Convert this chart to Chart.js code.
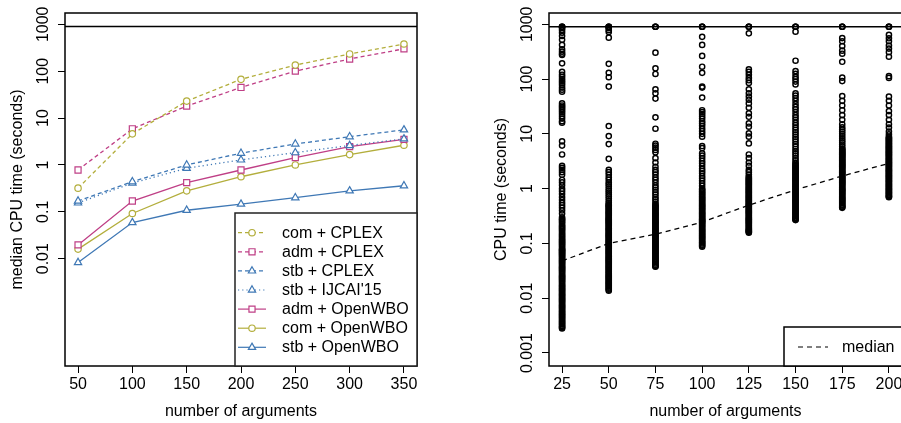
<!DOCTYPE html>
<html>
<head>
<meta charset="utf-8">
<script src="https://cdn.jsdelivr.net/npm/chart.js@4.4.0/dist/chart.umd.min.js"></script>
<style>
  html, body { margin: 0; padding: 0; background: #fff; overflow: hidden; }
  body { width: 901px; height: 423px; position: relative; }
  canvas { position: absolute; top: 0; }
</style>
</head>
<body>
<canvas id="medianChart" width="450" height="423" style="left:0"></canvas>
<canvas id="scatterChart" width="470" height="423" style="left:450px"></canvas>
<script>
// ---- left panel: median CPU time per solver ----
const argCounts = [50, 100, 150, 200, 250, 300, 350];
const comCplex   = [0.32, 4.6, 23, 67, 135, 233, 380];
const admCplex   = [0.78, 5.9, 18, 45, 100, 182, 300];
const stbCplex   = [0.17, 0.44, 1.0, 1.78, 2.8, 4.0, 5.6];
const stbIjcai   = [0.155, 0.41, 0.85, 1.28, 1.83, 2.6, 3.6];
const admOpenwbo = [0.0197, 0.17, 0.42, 0.78, 1.43, 2.46, 3.5];
const comOpenwbo = [0.016, 0.092, 0.28, 0.56, 1.0, 1.66, 2.63];
const stbOpenwbo = [0.0083, 0.059, 0.108, 0.146, 0.2, 0.28, 0.36];
const leftXTicks = [50, 100, 150, 200, 250, 300, 350];
const leftYTicks = [0.01, 0.1, 1, 10, 100, 1000];
const leftYLabels = ['0.01', '0.1', '1', '10', '100', '1000'];

// ---- right panel: CPU time of every instance ----
const argSizes = [25, 50, 75, 100, 125, 150, 175, 200];
const times25 = [900, 900, 900, 850, 780, 700, 610, 520, 420, 350, 316, 290, 275, 194, 135, 120, 110, 100, 92, 85, 78, 70, 64, 59,
  36, 33, 31, 29, 27, 25, 23, 21, 19, 17, 16, 7.3, 6.1, 4.2, 2.6, 2.4, 2.2, 2.0, 1.8, 1.44, 1.3, 1.15, 1.0, 0.9, 0.8, 0.7, 0.62,
  0.55, 0.5, 0.45, 0.4, 0.35, 0.3, 0.27, 0.24, 0.21, 0.19, 0.17, 0.15, 0.135, 0.12, 0.11, 0.1, 0.09, 0.08, 0.075, 0.07, 0.065,
  0.06, 0.055, 0.05, 0.046, 0.042, 0.038, 0.035, 0.032, 0.029, 0.026, 0.024, 0.022, 0.02, 0.018, 0.0165, 0.015, 0.0138, 0.0126,
  0.0115, 0.0105, 0.0096, 0.0088, 0.008, 0.0073, 0.0067, 0.0061, 0.0056, 0.0051, 0.0047, 0.0043, 0.0039, 0.0036, 0.0033, 0.003, 0.0028,
  0.28, 0.255, 0.225, 0.2, 0.18, 0.16, 0.142, 0.128, 0.115, 0.105, 0.095, 0.085, 0.0775, 0.0725, 0.0675, 0.0625, 0.0575, 0.0525,
  0.048, 0.044, 0.04, 0.0365, 0.0335, 0.0305, 0.0275, 0.025, 0.023, 0.021, 0.019, 0.017, 0.0157, 0.0144, 0.0132, 0.012, 0.011,
  0.01, 0.0092, 0.0084, 0.0076, 0.007, 0.0064, 0.0058, 0.0053, 0.0049, 0.0045, 0.0041, 0.0037, 0.0034, 0.0031, 0.0029];
const times50 = [900, 900, 900, 850, 780, 720, 570, 190, 130, 108, 73, 13.9, 9.1, 6.5, 3.5, 2.2, 2.0, 1.8, 1.6, 1.45, 1.3, 1.2, 1.1,
  1.0, 0.92, 0.85, 0.78, 0.72, 0.66, 0.6, 0.55, 0.5, 0.46, 0.42, 0.38, 0.35, 0.32, 0.29, 0.27, 0.25, 0.23, 0.21, 0.19, 0.175, 0.16,
  0.147, 0.135, 0.124, 0.113, 0.104, 0.095, 0.087, 0.08, 0.073, 0.067, 0.061, 0.056, 0.051, 0.047, 0.043, 0.039, 0.036, 0.033, 0.03,
  0.0275, 0.025, 0.023, 0.021, 0.0193, 0.0177, 0.0162, 0.0149, 0.0137,
  0.52, 0.48, 0.44, 0.4, 0.365, 0.335, 0.305, 0.28, 0.26, 0.24, 0.22, 0.2, 0.183, 0.168, 0.153, 0.141, 0.13, 0.118, 0.108, 0.099,
  0.091, 0.083, 0.076, 0.07, 0.064, 0.058, 0.053, 0.049, 0.045, 0.041, 0.0375, 0.0345, 0.0315, 0.0287, 0.026, 0.024, 0.022, 0.02,
  0.0185, 0.017, 0.0155, 0.0143];
const times75 = [900, 900, 900, 303, 157, 124, 65, 55, 44, 20, 12.4, 6.6, 6.1, 5.6, 5.1, 4.6, 3.6, 3.0, 2.5, 2.2, 2.0, 1.8, 1.6, 1.45,
  1.3, 1.15, 1.05, 0.95, 0.86, 0.78, 0.7, 0.64, 0.58, 0.53, 0.48, 0.44, 0.4, 0.36, 0.33, 0.3, 0.27, 0.25, 0.23, 0.21, 0.19, 0.175,
  0.16, 0.147, 0.135, 0.124, 0.113, 0.104, 0.095, 0.087, 0.08, 0.073, 0.067, 0.061, 0.056, 0.051, 0.047, 0.043, 0.0395, 0.0375,
  0.5, 0.46, 0.42, 0.38, 0.345, 0.315, 0.285, 0.26, 0.24, 0.22, 0.2, 0.183, 0.168, 0.153, 0.141, 0.13, 0.118, 0.108, 0.099, 0.091,
  0.083, 0.076, 0.07, 0.064, 0.058, 0.053, 0.049, 0.045, 0.041, 0.0385];
const times100 = [900, 900, 900, 590, 420, 265, 168, 130, 73, 70, 46, 27, 25, 23, 21, 19, 17, 15.5, 14, 12.5, 11.2, 10, 8.9, 6.0,
  5.5, 4.4, 4.0, 3.6, 3.2, 2.9, 2.6, 2.3, 2.1, 1.9, 1.7, 1.55, 1.4, 1.25, 1.12, 1.0, 0.9, 0.81, 0.73, 0.66, 0.6, 0.54, 0.49, 0.45,
  0.41, 0.37, 0.34, 0.31, 0.28, 0.26, 0.24, 0.22, 0.2, 0.18, 0.165, 0.15, 0.137, 0.125, 0.114, 0.104, 0.095, 0.087,
  0.95, 0.855, 0.77, 0.695, 0.63, 0.57, 0.515, 0.47, 0.43, 0.39, 0.355, 0.325, 0.295, 0.27, 0.25, 0.23, 0.21, 0.19, 0.172, 0.157,
  0.143, 0.131, 0.12, 0.109, 0.1, 0.091];
const times125 = [900, 900, 900, 684, 150, 135, 120, 105, 95, 85, 65, 55, 48, 42, 36, 30, 23.7, 20.5, 15.5, 13.5, 10.2, 8.9, 6.7,
  4.2, 3.6, 3.0, 2.6, 2.2, 2.0, 1.8, 1.65, 1.5, 1.38, 1.27, 1.16, 1.06, 0.97, 0.89, 0.82, 0.75, 0.69, 0.63, 0.58, 0.53, 0.49, 0.45,
  0.41, 0.38, 0.35, 0.32, 0.29, 0.27, 0.25, 0.23, 0.21, 0.19, 0.175, 0.165, 0.157,
  1.57, 1.44, 1.32, 1.21, 1.11, 1.01, 0.93, 0.855, 0.785, 0.72, 0.66, 0.605, 0.555, 0.51, 0.47, 0.43, 0.395, 0.365, 0.335, 0.305,
  0.28, 0.26, 0.24, 0.22, 0.2, 0.182, 0.17, 0.161];
const times150 = [900, 900, 900, 733, 216, 140, 125, 110, 100, 90, 80, 55, 50, 45, 40, 35, 31, 28, 25, 22, 20, 18, 16, 14.5, 13,
  11.8, 10.7, 9.7, 8.8, 8, 7.2, 6.5, 5.9, 5.3, 4.8, 4.4, 4.0, 3.6, 3.3, 3.0, 2.7, 2.45, 2.25, 2.05, 1.87, 1.7, 1.55, 1.42, 1.3,
  1.18, 1.08, 0.98, 0.9, 0.82, 0.75, 0.68, 0.62, 0.57, 0.52, 0.47, 0.43, 0.39, 0.36, 0.33, 0.3, 0.28, 0.267,
  2.85, 2.58, 2.35, 2.15, 1.96, 1.78, 1.62, 1.48, 1.36, 1.24, 1.13, 1.03, 0.94, 0.86, 0.785, 0.715, 0.65, 0.595, 0.545, 0.495,
  0.45, 0.41, 0.375, 0.345, 0.315, 0.29, 0.273];
const times175 = [900, 900, 900, 560, 490, 400, 330, 290, 207, 106, 92, 49, 40, 33, 27, 22, 18, 15, 13.2, 12, 11, 10, 9.1, 8.3,
  7.6, 7.0, 6.4, 5.9, 5.4, 5.0, 4.6, 4.3, 4.0, 3.7, 3.4, 3.15, 2.9, 2.7, 2.5, 2.3, 2.1, 1.95, 1.8, 1.65, 1.52, 1.4, 1.3, 1.2, 1.1,
  1.0, 0.93, 0.86, 0.79, 0.72, 0.66, 0.61, 0.56, 0.51, 0.47, 0.447,
  5.2, 4.8, 4.45, 4.15, 3.85, 3.55, 3.27, 3.02, 2.8, 2.6, 2.4, 2.2, 2.02, 1.87, 1.72, 1.58, 1.46, 1.35, 1.25, 1.15, 1.05, 0.965,
  0.895, 0.825, 0.755, 0.69, 0.635, 0.585, 0.535, 0.49, 0.458];
const times200 = [900, 900, 900, 640, 555, 490, 410, 360, 310, 256, 113, 105, 48, 40, 33, 26, 22, 18, 15, 13, 11, 9.8, 8.9, 8.2,
  7.6, 7.0, 6.5, 6.0, 5.6, 5.2, 4.8, 4.5, 4.2, 3.9, 3.6, 3.35, 3.1, 2.9, 2.7, 2.5, 2.3, 2.15, 2.0, 1.85, 1.72, 1.6, 1.48, 1.38,
  1.28, 1.19, 1.1, 1.02, 0.95, 0.88, 0.82, 0.76, 0.7,
  8.5, 7.9, 7.3, 6.75, 6.25, 5.8, 5.4, 5.0, 4.65, 4.35, 4.05, 3.75, 3.47, 3.22, 3.0, 2.8, 2.6, 2.4, 2.22, 2.07, 1.92, 1.78, 1.66,
  1.54, 1.43, 1.33, 1.23, 1.14, 1.06, 0.985, 0.915, 0.85, 0.79, 0.73, 0.71];
const cpuTimes = [times25, times50, times75, times100, times125, times150, times175, times200];
const medianTimes = [0.048, 0.1, 0.147, 0.245, 0.5, 0.95, 1.7, 2.9];
const rightXTicks = [25, 50, 75, 100, 125, 150, 175, 200];
const rightYTicks = [0.001, 0.01, 0.1, 1, 10, 100, 1000];
const rightYLabels = ['0.001', '0.01', '0.1', '1', '10', '100', '1000'];

const timeout = 900;

const FONT = '"Liberation Sans", Arial, Helvetica, sans-serif';
const FS = 16;
const COM = '#b3ae3c';
const ADM = '#bf3f86';
const STB = '#3f78b5';

function drawMarker(ctx, style, r, x, y) {
    ctx.beginPath();
    if (style === 'circle') {
        ctx.arc(x, y, r, 0, Math.PI * 2);
    } else if (style === 'rect') {
        const s = Math.SQRT1_2 * r;
        ctx.rect(x - s, y - s, 2 * s, 2 * s);
    } else {
        ctx.moveTo(x, y - r);
        ctx.lineTo(x + 0.866 * r, y + 0.5 * r);
        ctx.lineTo(x - 0.866 * r, y + 0.5 * r);
        ctx.closePath();
    }
    ctx.fillStyle = '#fff';
    ctx.fill();
    ctx.stroke();
}

// box, timeout line, rotated y labels, axis titles
function decorPlugin(yTitle, yTicks, yLabels, drawLegend) {
    return {
        id: 'decor',
        afterDatasetsDraw(chart) {
            const ctx = chart.ctx;
            const a = chart.chartArea;
            const ys = chart.scales.y;
            ctx.save();
            ctx.strokeStyle = '#000';
            ctx.lineWidth = 1.5;
            ctx.setLineDash([]);
            const ty = ys.getPixelForValue(timeout);
            ctx.beginPath();
            ctx.moveTo(a.left, ty);
            ctx.lineTo(a.right, ty);
            ctx.stroke();
            ctx.strokeRect(a.left, a.top, a.right - a.left, a.bottom - a.top);

            ctx.fillStyle = '#000';
            ctx.font = FS + 'px ' + FONT;
            ctx.textAlign = 'center';
            ctx.textBaseline = 'middle';
            yTicks.forEach((v, i) => {
                ctx.save();
                ctx.translate(a.left - 21, ys.getPixelForValue(v));
                ctx.rotate(-Math.PI / 2);
                ctx.fillText(yLabels[i], 0, 0);
                ctx.restore();
            });
            ctx.save();
            ctx.translate(a.left - 47, (a.top + a.bottom) / 2);
            ctx.rotate(-Math.PI / 2);
            ctx.fillText(yTitle, 0, 0);
            ctx.restore();
            ctx.textBaseline = 'alphabetic';
            ctx.fillText('number of arguments', (a.left + a.right) / 2, a.bottom + 49.5);
            ctx.textBaseline = 'middle';
            drawLegend(chart, ctx, a);
            ctx.restore();
        }
    };
}

function leftLegend(chart, ctx, a) {
    const x0 = 235, y0 = 213;
    ctx.fillStyle = '#fff';
    ctx.fillRect(x0, y0, a.right - x0, a.bottom - y0);
    ctx.strokeStyle = '#222';
    ctx.lineWidth = 1.5;
    ctx.strokeRect(x0, y0, a.right - x0, a.bottom - y0);
    ctx.textAlign = 'left';
    chart.data.datasets.forEach((ds, i) => {
        const y = 232.7 + i * 19.1;
        ctx.strokeStyle = ds.borderColor;
        ctx.lineWidth = 1.2;
        ctx.setLineDash(ds.borderDash || []);
        ctx.beginPath();
        ctx.moveTo(238, y);
        ctx.lineTo(266, y);
        ctx.stroke();
        ctx.setLineDash([]);
        drawMarker(ctx, ds.pointStyle, ds.pointRadius, 252, y);
        ctx.fillStyle = '#000';
        ctx.fillText(ds.label, 282, y + 0.5);
    });
}

function rightLegend(chart, ctx, a) {
    const x0 = 334, y0 = 327;
    ctx.fillStyle = '#fff';
    ctx.fillRect(x0, y0, a.right - x0, a.bottom - y0);
    ctx.strokeStyle = '#000';
    ctx.lineWidth = 1.5;
    ctx.strokeRect(x0, y0, a.right - x0, a.bottom - y0);
    ctx.lineWidth = 1.2;
    ctx.setLineDash([5, 4]);
    ctx.beginPath();
    ctx.moveTo(348, 347);
    ctx.lineTo(378, 347);
    ctx.stroke();
    ctx.setLineDash([]);
    ctx.fillStyle = '#000';
    ctx.textAlign = 'left';
    ctx.fillText('median', 392, 347.5);
}

function series(label, values, color, dash, style, radius) {
    return {
        label: label,
        data: values.map((v, i) => ({ x: argCounts[i], y: v })),
        borderColor: color,
        borderWidth: 1.3,
        borderDash: dash,
        pointStyle: style,
        pointRadius: radius,
        pointBorderColor: color,
        pointBackgroundColor: '#fff',
        pointBorderWidth: 1.2,
        tension: 0,
        fill: false
    };
}

function xAxis(min, max, ticks) {
    return {
        type: 'linear', min: min, max: max,
        afterBuildTicks: s => { s.ticks = ticks.map(v => ({ value: v })); },
        afterFit: s => { s.height = 57; },
        grid: { drawOnChartArea: false, drawTicks: true, tickLength: 7, color: '#000', lineWidth: 1 },
        border: { display: false },
        ticks: { font: { family: FONT, size: FS }, color: '#000', padding: 2, autoSkip: false, maxRotation: 0,
                 callback: v => String(v) }
    };
}

function yAxis(min, max, ticks, width) {
    return {
        type: 'logarithmic', min: min, max: max,
        afterBuildTicks: s => { s.ticks = ticks.map(v => ({ value: v })); },
        afterFit: s => { s.width = width; },
        grid: { drawOnChartArea: false, drawTicks: true, tickLength: 7, color: '#000', lineWidth: 1 },
        border: { display: false },
        ticks: { display: false }
    };
}

new Chart(document.getElementById('medianChart'), {
    type: 'line',
    data: {
        datasets: [
            series('com + CPLEX', comCplex, COM, [4, 3], 'circle', 3.2),
            series('adm + CPLEX', admCplex, ADM, [4, 3], 'rect', 4.3),
            series('stb + CPLEX', stbCplex, STB, [4, 3], 'triangle', 4.2),
            series("stb + IJCAI'15", stbIjcai, STB, [1.2, 3], 'triangle', 4.2),
            series('adm + OpenWBO', admOpenwbo, ADM, [], 'rect', 4.3),
            series('com + OpenWBO', comOpenwbo, COM, [], 'circle', 3.2),
            series('stb + OpenWBO', stbOpenwbo, STB, [], 'triangle', 4.2)
        ]
    },
    options: {
        responsive: false,
        animation: false,
        devicePixelRatio: 1,
        events: [],
        layout: { padding: { top: 13, right: 33, left: 0, bottom: 0 } },
        scales: {
            x: xAxis(38, 362, leftXTicks),
            y: yAxis(5.14e-5, 1742, leftYTicks, 65)
        },
        plugins: { legend: { display: false }, tooltip: { enabled: false } }
    },
    plugins: [decorPlugin('median CPU time (seconds)', leftYTicks, leftYLabels, leftLegend)]
});

const scatterPoints = [];
cpuTimes.forEach((col, i) => col.forEach(t => scatterPoints.push({ x: argSizes[i], y: t })));

new Chart(document.getElementById('scatterChart'), {
    type: 'scatter',
    data: {
        datasets: [
            {
                label: 'instances',
                data: scatterPoints,
                pointStyle: 'circle',
                pointRadius: 2.6,
                pointBorderWidth: 1.45,
                pointBorderColor: '#000',
                pointBackgroundColor: 'rgba(0,0,0,0)',
                showLine: false
            },
            {
                label: 'median',
                type: 'line',
                data: medianTimes.map((v, i) => ({ x: argSizes[i], y: v })),
                borderColor: '#000',
                borderWidth: 1.3,
                borderDash: [5, 4],
                pointRadius: 0,
                tension: 0,
                fill: false
            }
        ]
    },
    options: {
        responsive: false,
        animation: false,
        devicePixelRatio: 1,
        events: [],
        layout: { padding: { top: 13, right: 18, left: 0, bottom: 0 } },
        scales: {
            x: xAxis(18, 207, rightXTicks),
            y: yAxis(5.79e-4, 1607, rightYTicks, 99)
        },
        plugins: { legend: { display: false }, tooltip: { enabled: false } }
    },
    plugins: [decorPlugin('CPU time (seconds)', rightYTicks, rightYLabels, rightLegend)]
});
</script>
</body>
</html>
